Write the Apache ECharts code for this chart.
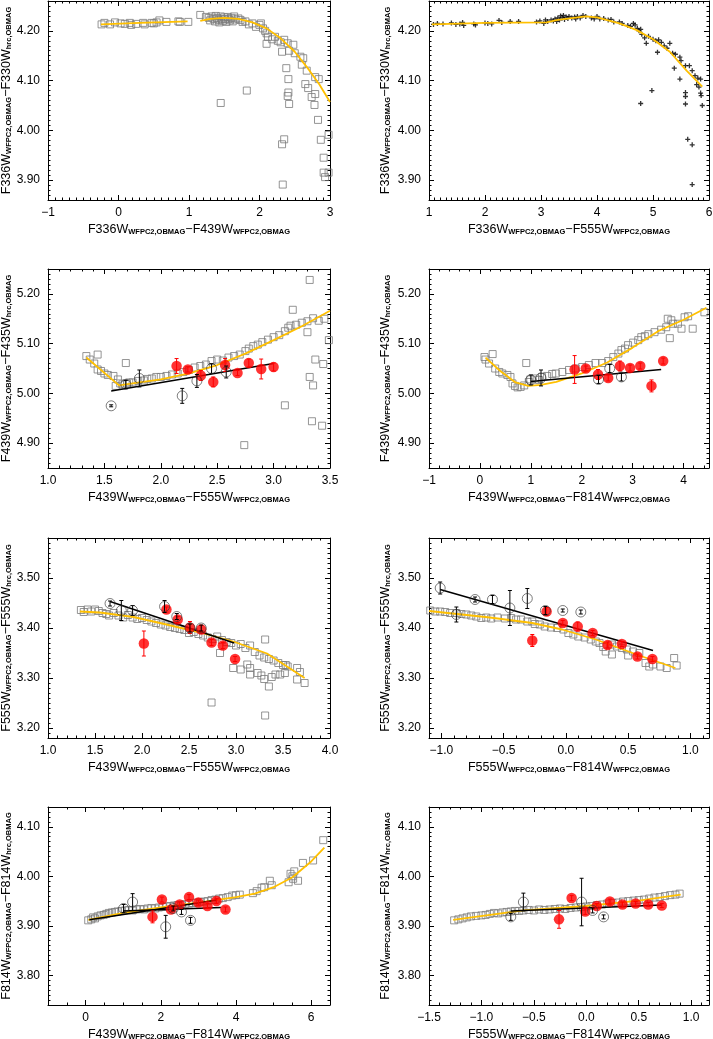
<!DOCTYPE html>
<html>
<head>
<meta charset="utf-8">
<script src="https://cdn.jsdelivr.net/npm/echarts@6/dist/echarts.min.js"></script>
<style>
  html, body { margin: 0; padding: 0; background: #fff; }
  #chart { width: 713px; height: 1039px; }
</style>
</head>
<body>
<div id="chart"></div>
<script>
// ---- panel 1: F336W-F439W vs F336W(wfpc2)-F330W(hrc)
var p1Squares = [
  [-0.24, 4.213], [-0.20, 4.216], [-0.12, 4.213], [-0.05, 4.217], [0.03, 4.215], [0.09, 4.214], [0.16, 4.216],
  [0.18, 4.212], [0.25, 4.214], [0.35, 4.216], [0.37, 4.213], [0.47, 4.216], [0.50, 4.215], [0.54, 4.217],
  [0.58, 4.221], [0.68, 4.218], [0.85, 4.219], [0.87, 4.218], [0.99, 4.218],
  [1.16, 4.232], [1.24, 4.228], [1.28, 4.226], [1.30, 4.221], [1.32, 4.229], [1.35, 4.224], [1.37, 4.219],
  [1.38, 4.230], [1.40, 4.226], [1.42, 4.222], [1.43, 4.217], [1.45, 4.229], [1.46, 4.224], [1.48, 4.220],
  [1.50, 4.227], [1.51, 4.223], [1.53, 4.218], [1.55, 4.228], [1.56, 4.224], [1.58, 4.221], [1.60, 4.226],
  [1.62, 4.219], [1.64, 4.229], [1.66, 4.223], [1.70, 4.225], [1.73, 4.222], [1.76, 4.218], [1.80, 4.219],
  [1.85, 4.213], [1.90, 4.215], [1.95, 4.208], [2.00, 4.212], [2.02, 4.215], [2.05, 4.205], [2.08, 4.200],
  [2.10, 4.195], [2.12, 4.188], [2.10, 4.174], [2.18, 4.183], [2.22, 4.188], [2.26, 4.180], [2.30, 4.177],
  [2.32, 4.158], [2.35, 4.182], [2.40, 4.175], [2.42, 4.160], [2.48, 4.172], [2.50, 4.155], [2.58, 4.148],
  [2.62, 4.145], [2.60, 4.132], [2.65, 4.093], [2.69, 4.085], [2.74, 4.067], [2.78, 4.051], [2.79, 4.107],
  [2.84, 4.103], [2.79, 4.073], [2.83, 4.021], [2.87, 3.981], [2.91, 3.945], [2.91, 3.915], [2.93, 3.906],
  [2.98, 3.991], [2.98, 3.915], [2.67, 4.120],
  [1.45, 4.055], [1.82, 4.080], [2.38, 4.125], [2.41, 4.103], [2.41, 4.076], [2.40, 4.069], [2.42, 4.053],
  [2.35, 3.982], [2.32, 3.972], [2.33, 3.891]
];
var p1Fit = [[-0.25, 4.213], [0.3, 4.216], [0.98, 4.219], null,
  [1.16, 4.220], [1.3, 4.224], [1.5, 4.226], [1.7, 4.224], [1.9, 4.217], [2.1, 4.205], [2.3, 4.185],
  [2.5, 4.158], [2.7, 4.122], [2.85, 4.092], [3.0, 4.057]];

// ---- panel 2: F336W-F555W
var p2Plus = [
  [1.08, 4.213], [1.15, 4.215], [1.25, 4.214], [1.40, 4.216], [1.48, 4.213], [1.55, 4.214], [1.60, 4.217],
  [1.62, 4.211], [1.80, 4.214], [1.83, 4.212], [2.00, 4.216], [2.05, 4.215], [2.12, 4.214], [2.25, 4.221],
  [2.30, 4.217], [2.45, 4.219], [2.60, 4.219], [2.92, 4.218], [2.98, 4.220], [3.05, 4.215], [3.08, 4.222],
  [3.12, 4.219], [3.18, 4.222], [3.22, 4.220], [3.25, 4.224], [3.28, 4.219], [3.30, 4.226], [3.33, 4.222],
  [3.35, 4.230], [3.38, 4.226], [3.40, 4.231], [3.42, 4.223], [3.45, 4.228], [3.48, 4.225], [3.50, 4.229],
  [3.55, 4.226], [3.60, 4.228], [3.62, 4.224], [3.65, 4.229], [3.70, 4.226], [3.75, 4.231], [3.80, 4.229],
  [3.90, 4.226], [3.95, 4.224], [4.00, 4.229], [4.05, 4.224], [4.12, 4.225], [4.20, 4.222], [4.25, 4.223],
  [4.30, 4.218], [4.40, 4.218], [4.45, 4.215], [4.55, 4.211], [4.60, 4.209], [4.65, 4.215], [4.68, 4.212],
  [4.72, 4.205], [4.75, 4.200], [4.78, 4.203], [4.80, 4.193], [4.85, 4.186], [4.88, 4.175], [4.92, 4.189],
  [5.00, 4.183], [5.05, 4.180], [5.08, 4.157], [5.10, 4.182], [5.15, 4.177], [5.20, 4.170], [5.25, 4.165],
  [5.30, 4.175], [5.35, 4.155], [5.40, 4.153], [5.48, 4.147], [5.50, 4.140], [5.58, 4.130], [5.65, 4.130],
  [5.70, 4.120], [5.75, 4.110], [5.80, 4.105], [5.85, 4.103], [5.78, 4.092], [5.82, 4.087],
  [4.78, 4.054], [4.98, 4.080], [5.38, 4.125], [5.48, 4.103], [5.58, 4.076], [5.58, 4.068], [5.58, 4.053],
  [5.62, 3.982], [5.70, 3.971], [5.70, 3.891], [5.86, 4.070], [5.88, 4.050], [5.85, 4.075]
];
var p2Fit = [[1.05, 4.213], [2.0, 4.216], [3.1, 4.217], [3.3, 4.222], [3.8, 4.229], [4.0, 4.227],
  [4.4, 4.215], [4.7, 4.202], [5.0, 4.183], [5.3, 4.158], [5.6, 4.120], [5.88, 4.088]];

// ---- panel 3: F439W-F555W vs F439W-F435W
var p3Squares = [
  [1.34, 5.075], [1.37, 5.068], [1.41, 5.060], [1.44, 5.048], [1.47, 5.045], [1.50, 5.040], [1.53, 5.037],
  [1.58, 5.035], [1.60, 5.015], [1.62, 5.028], [1.64, 5.020], [1.66, 5.018], [1.70, 5.020], [1.72, 5.022],
  [1.75, 5.022], [1.80, 5.025], [1.85, 5.026], [1.88, 5.029], [1.92, 5.030], [1.96, 5.033], [2.00, 5.033],
  [2.05, 5.035], [2.10, 5.038], [2.15, 5.040], [2.20, 5.043], [2.25, 5.047], [2.30, 5.052], [2.35, 5.055],
  [2.40, 5.058], [2.45, 5.065], [2.50, 5.068], [2.55, 5.066], [2.60, 5.072], [2.65, 5.075], [2.70, 5.078],
  [2.75, 5.085], [2.78, 5.090], [2.82, 5.095], [2.86, 5.098], [2.90, 5.103], [2.95, 5.108], [3.00, 5.113],
  [3.05, 5.117], [3.10, 5.125], [3.13, 5.132], [3.15, 5.136], [3.20, 5.138], [3.25, 5.142], [3.30, 5.145],
  [3.35, 5.151], [3.40, 5.146], [3.45, 5.150], [3.49, 5.107], [3.30, 5.123],
  [1.44, 5.078], [1.69, 5.061], [3.17, 5.168], [3.32, 5.228], [3.34, 4.944], [3.10, 4.976], [2.74, 4.896],
  [3.32, 5.033], [3.35, 5.016], [3.37, 5.068], [3.44, 5.059], [3.43, 4.935]
];
var p3Fit = [[1.34, 5.072], [1.63, 5.016], [1.75, 5.020], [2.0, 5.028], [2.25, 5.040], [2.5, 5.057],
  [2.75, 5.080], [3.0, 5.107], [3.25, 5.135], [3.5, 5.166]];
var p3Lines = [[[1.56, 5.005], [3.0, 5.060]]];
var p3Red = [[2.14, 5.055, 0.015], [2.24, 5.048, 0.005], [2.355, 5.036, 0.01], [2.465, 5.023, 0.01],
  [2.57, 5.057, 0.013], [2.68, 5.041, 0.005], [2.78, 5.061, 0.008], [2.89, 5.049, 0.02], [3.0, 5.053, 0.008]];
var p3Open = [[1.56, 4.975, 0.002], [1.69, 5.018, 0.008], [1.81, 5.030, 0.017], [2.19, 4.995, 0.015],
  [2.32, 5.025, 0.013], [2.45, 5.050, 0.01], [2.58, 5.043, 0.012]];

// ---- panel 4: F439W-F814W vs F439W-F435W
var p4Squares = [
  [0.09, 5.073], [0.11, 5.068], [0.18, 5.060], [0.25, 5.079], [0.30, 5.050], [0.38, 5.043], [0.44, 5.040],
  [0.54, 5.037], [0.60, 5.033], [0.64, 5.020], [0.69, 5.015], [0.74, 5.012], [0.80, 5.013], [0.87, 5.016],
  [0.91, 5.061], [0.96, 5.023], [0.99, 5.028], [1.09, 5.030], [1.16, 5.027], [1.22, 5.033], [1.32, 5.035],
  [1.42, 5.039], [1.49, 5.040], [1.62, 5.043], [1.75, 5.047], [1.88, 5.050], [2.01, 5.053], [2.14, 5.057],
  [2.27, 5.061], [2.40, 5.061], [2.52, 5.065], [2.62, 5.073], [2.72, 5.080], [2.78, 5.087], [2.85, 5.090],
  [2.91, 5.097], [3.01, 5.102], [3.11, 5.107], [3.17, 5.113], [3.24, 5.115], [3.31, 5.119], [3.43, 5.123],
  [3.56, 5.128], [3.66, 5.133], [3.69, 5.150], [3.76, 5.147], [3.79, 5.140], [3.89, 5.140], [3.96, 5.130],
  [4.02, 5.153], [4.09, 5.155], [4.18, 5.130], [4.41, 5.163], [3.73, 5.111]
];
var p4Fit = [[0.11, 5.072], [0.4, 5.045], [0.7, 5.022], [0.95, 5.015], [1.2, 5.017], [1.5, 5.023],
  [2.0, 5.040], [2.5, 5.062], [3.0, 5.092], [3.5, 5.125], [4.0, 5.148], [4.45, 5.172]];
var p4Lines = [[[1.0, 5.024], [3.56, 5.048]]];
var p4Red = [[1.86, 5.048, 0.028], [2.08, 5.050, 0.005], [2.32, 5.038, 0.01], [2.52, 5.031, 0.006],
  [2.75, 5.055, 0.01], [2.95, 5.051, 0.006], [3.15, 5.055, 0.006], [3.37, 5.015, 0.012], [3.60, 5.065, 0.006]];
var p4Open = [[1.0, 5.027, 0.01], [1.2, 5.031, 0.016], [2.33, 5.028, 0.008], [2.55, 5.050, 0.008],
  [2.78, 5.033, 0.008]];

// ---- panel 5: F439W-F555W vs F555W-F555W
var p5Squares = [
  [1.35, 3.436], [1.38, 3.432], [1.42, 3.437], [1.46, 3.433], [1.50, 3.437], [1.54, 3.434], [1.58, 3.430],
  [1.62, 3.428], [1.65, 3.425], [1.70, 3.430], [1.75, 3.425], [1.80, 3.421], [1.85, 3.426], [1.90, 3.421],
  [1.95, 3.418], [2.00, 3.420], [2.05, 3.416], [2.10, 3.413], [2.15, 3.410], [2.20, 3.407], [2.25, 3.405],
  [2.30, 3.402], [2.35, 3.400], [2.40, 3.398], [2.45, 3.396], [2.50, 3.390], [2.55, 3.392], [2.60, 3.388],
  [2.65, 3.385], [2.70, 3.381], [2.75, 3.378], [2.80, 3.383], [2.85, 3.376], [2.90, 3.372], [2.95, 3.370],
  [3.00, 3.365], [3.05, 3.368], [3.10, 3.360], [3.15, 3.365], [3.20, 3.352], [3.25, 3.345], [3.30, 3.341],
  [3.35, 3.338], [3.40, 3.335], [3.45, 3.330], [3.50, 3.326], [3.55, 3.323], [3.65, 3.320], [3.68, 3.312],
  [3.65, 3.297], [3.73, 3.290],
  [2.83, 3.350], [2.97, 3.320], [3.05, 3.317], [3.12, 3.327], [3.15, 3.307], [3.27, 3.305], [3.30, 3.298],
  [3.35, 3.283], [3.38, 3.302], [3.42, 3.307], [3.47, 3.307], [3.52, 3.310], [3.53, 3.326], [3.31, 3.377],
  [2.74, 3.251], [3.31, 3.225], [3.15, 3.320], [3.23, 3.310]
];
var p5Fit = [[1.34, 3.433], [1.55, 3.431], [1.91, 3.422], [2.26, 3.407], [2.62, 3.391], [2.97, 3.373],
  [3.33, 3.349], [3.73, 3.300]];
var p5Lines = [[[1.66, 3.453], [2.98, 3.370]]];
var p5Red = [[2.02, 3.369, 0.025], [2.26, 3.437, 0.005], [2.38, 3.417, 0.006], [2.51, 3.401, 0.012],
  [2.63, 3.397, 0.008], [2.74, 3.371, 0.006], [2.86, 3.365, 0.006], [2.99, 3.338, 0.005]];
var p5Open = [[1.66, 3.449, 0.005], [1.78, 3.435, 0.02], [1.90, 3.435, 0.01], [2.24, 3.443, 0.012],
  [2.37, 3.423, 0.006], [2.51, 3.400, 0.008], [2.63, 3.400, 0.006]];

// ---- panel 6: F555W-F814W vs F555W-F555W
var p6Squares = [
  [-1.09, 3.435], [-1.05, 3.433], [-1.01, 3.433], [-0.97, 3.432], [-0.93, 3.430], [-0.88, 3.430],
  [-0.84, 3.428], [-0.80, 3.427], [-0.76, 3.425], [-0.72, 3.423], [-0.68, 3.420], [-0.64, 3.421],
  [-0.60, 3.419], [-0.55, 3.421], [-0.49, 3.419], [-0.44, 3.420], [-0.40, 3.417], [-0.36, 3.417],
  [-0.31, 3.413], [-0.27, 3.413], [-0.25, 3.408], [-0.21, 3.407], [-0.17, 3.403], [-0.12, 3.401],
  [-0.07, 3.400], [-0.02, 3.397], [0.02, 3.390], [0.06, 3.387], [0.10, 3.383], [0.15, 3.381], [0.20, 3.377],
  [0.24, 3.373], [0.27, 3.370], [0.30, 3.362], [0.32, 3.353], [0.37, 3.367], [0.41, 3.363], [0.45, 3.360],
  [0.49, 3.357], [0.54, 3.353], [0.59, 3.350], [0.64, 3.330], [0.67, 3.323], [0.70, 3.327], [0.76, 3.323],
  [0.81, 3.320], [0.87, 3.340], [0.89, 3.325], [0.50, 3.345], [0.37, 3.347]
];
var p6Fit = [[-1.1, 3.434], [-0.61, 3.421], [-0.27, 3.410], [-0.03, 3.397], [0.24, 3.377], [0.59, 3.345],
  [0.88, 3.320]];
var p6Lines = [[[-1.01, 3.477], [0.70, 3.355]]];
var p6Red = [[-0.27, 3.375, 0.012], [-0.155, 3.433, 0.008], [-0.025, 3.410, 0.005], [0.095, 3.403, 0.009],
  [0.215, 3.390, 0.005], [0.335, 3.366, 0.006], [0.45, 3.368, 0.005], [0.575, 3.343, 0.005], [0.695, 3.338, 0.005]];
var p6Open = [[-1.01, 3.480, 0.012], [-0.88, 3.427, 0.015], [-0.73, 3.457, 0.005], [-0.59, 3.457, 0.008],
  [-0.45, 3.440, 0.035], [-0.31, 3.459, 0.02], [-0.165, 3.435, 0.008], [-0.025, 3.435, 0.003], [0.12, 3.432, 0.004]];

// ---- panel 7: F439W-F814W vs F814W-F814W
var p7Squares = [
  [0.07, 3.911], [0.15, 3.913], [0.20, 3.917], [0.25, 3.915], [0.32, 3.919], [0.40, 3.921], [0.48, 3.922],
  [0.55, 3.924], [0.62, 3.926], [0.70, 3.927], [0.78, 3.928], [0.85, 3.929], [0.95, 3.930], [1.05, 3.931],
  [1.15, 3.932], [1.25, 3.931], [1.35, 3.933], [1.45, 3.934], [1.55, 3.933], [1.65, 3.935], [1.75, 3.936],
  [1.85, 3.935], [1.95, 3.937], [2.05, 3.938], [2.15, 3.939], [2.25, 3.940], [2.35, 3.941], [2.45, 3.942],
  [2.55, 3.942], [2.65, 3.944], [2.75, 3.945], [2.85, 3.946], [2.95, 3.947], [3.05, 3.948], [3.15, 3.949],
  [3.25, 3.950], [3.35, 3.952], [3.45, 3.953], [3.55, 3.955], [3.65, 3.956], [3.78, 3.958], [3.90, 3.961],
  [4.00, 3.962], [4.10, 3.963], [4.45, 3.966], [4.55, 3.970], [4.68, 3.977], [4.75, 3.978], [4.90, 3.991],
  [4.95, 3.982], [5.40, 3.988], [5.45, 4.005], [5.50, 4.000], [5.55, 4.010], [5.52, 3.995], [5.65, 3.991],
  [5.78, 4.027], [6.05, 4.032], [6.32, 4.073]
];
var p7Fit = [[0.07, 3.912], [1.0, 3.926], [2.0, 3.937], [3.0, 3.947], [4.0, 3.958], [4.5, 3.965],
  [5.0, 3.978], [5.5, 3.998], [6.0, 4.030], [6.35, 4.058]];
var p7Lines = [[[0.1, 3.912], [3.5, 3.952]], [[1.0, 3.930], [3.6, 3.937]]];
var p7Red = [[1.78, 3.918, 0.012], [2.03, 3.953, 0.005], [2.27, 3.933, 0.005], [2.50, 3.943, 0.005],
  [2.75, 3.958, 0.005], [3.00, 3.947, 0.005], [3.24, 3.940, 0.005], [3.48, 3.950, 0.005], [3.72, 3.933, 0.005]];
var p7Open = [[1.01, 3.935, 0.008], [1.25, 3.948, 0.017], [2.13, 3.898, 0.023], [2.33, 3.935, 0.005],
  [2.55, 3.928, 0.005], [2.79, 3.911, 0.006]];

// ---- panel 8: F555W-F814W vs F814W-F814W
var p8Squares = [
  [-1.26, 3.911], [-1.22, 3.913], [-1.18, 3.915], [-1.14, 3.917], [-1.10, 3.919], [-1.05, 3.920],
  [-1.00, 3.921], [-0.96, 3.922], [-0.92, 3.924], [-0.88, 3.926], [-0.84, 3.925], [-0.80, 3.927],
  [-0.76, 3.928], [-0.72, 3.929], [-0.68, 3.930], [-0.64, 3.930], [-0.60, 3.931], [-0.55, 3.932],
  [-0.50, 3.931], [-0.45, 3.933], [-0.40, 3.932], [-0.35, 3.933], [-0.30, 3.934], [-0.25, 3.935],
  [-0.20, 3.934], [-0.15, 3.936], [-0.10, 3.937], [-0.05, 3.938], [0.00, 3.939], [0.05, 3.940],
  [0.10, 3.942], [0.15, 3.943], [0.20, 3.945], [0.25, 3.946], [0.30, 3.947], [0.35, 3.949], [0.40, 3.950],
  [0.45, 3.951], [0.50, 3.952], [0.55, 3.953], [0.60, 3.955], [0.65, 3.957], [0.70, 3.958], [0.75, 3.960],
  [0.80, 3.962], [0.85, 3.963], [0.89, 3.965]
];
var p8Fit = [[-1.27, 3.912], [-0.6, 3.931], [0.0, 3.940], [0.5, 3.951], [0.9, 3.963]];
var p8Lines = [[[-0.72, 3.930], [0.72, 3.942]]];
var p8Red = [[-0.26, 3.913, 0.018], [-0.14, 3.956, 0.005], [-0.01, 3.929, 0.006], [0.10, 3.940, 0.005],
  [0.225, 3.949, 0.005], [0.345, 3.943, 0.005], [0.47, 3.945, 0.004], [0.59, 3.943, 0.004], [0.72, 3.941, 0.004]];
var p8Open = [[-0.72, 3.918, 0.007], [-0.60, 3.948, 0.018], [-0.045, 3.948, 0.048], [0.06, 3.931, 0.005],
  [0.165, 3.918, 0.004]];

var FONT = 'Liberation Sans';

// axis spec: [min, max, major, minor, decimals]
var panels = [
  { box: [48, 1, 282, 199], x: [-1, 3, 1, 0.1, 0], y: [3.86, 4.26, 0.1, 0.01, 2],
    xn: ['F336W', 'F439W'], yn: ['F336W', 'F330W'], pts: p1Squares, fit: p1Fit },
  { box: [429, 1, 280, 199], x: [1, 6, 1, 0.1, 0], y: [3.86, 4.26, 0.1, 0.01, 2],
    xn: ['F336W', 'F555W'], yn: ['F336W', 'F330W'], pts: p2Plus, plus: true, fit: p2Fit },
  { box: [48, 269, 282, 199], x: [1.0, 3.5, 0.5, 0.1, 1], y: [4.85, 5.25, 0.1, 0.01, 2],
    xn: ['F439W', 'F555W'], yn: ['F439W', 'F435W'], pts: p3Squares, fit: p3Fit, lines: p3Lines, red: p3Red, open: p3Open },
  { box: [429, 269, 280, 199], x: [-1, 4.5, 1, 0.2, 0], y: [4.85, 5.25, 0.1, 0.01, 2],
    xn: ['F439W', 'F814W'], yn: ['F439W', 'F435W'], pts: p4Squares, fit: p4Fit, lines: p4Lines, red: p4Red, open: p4Open },
  { box: [48, 538, 282, 200], x: [1.0, 4.0, 0.5, 0.1, 1], y: [3.18, 3.58, 0.1, 0.01, 2],
    xn: ['F439W', 'F555W'], yn: ['F555W', 'F555W'], pts: p5Squares, fit: p5Fit, lines: p5Lines, red: p5Red, open: p5Open },
  { box: [429, 538, 280, 200], x: [-1.1, 1.15, 0.5, 0.1, 1], y: [3.18, 3.58, 0.1, 0.01, 2],
    xn: ['F555W', 'F814W'], yn: ['F555W', 'F555W'], pts: p6Squares, fit: p6Fit, lines: p6Lines, red: p6Red, open: p6Open },
  { box: [48, 807, 282, 198], x: [-1, 6.5, 2, 0.5, 0], y: [3.74, 4.14, 0.1, 0.01, 2],
    xn: ['F439W', 'F814W'], yn: ['F814W', 'F814W'], pts: p7Squares, fit: p7Fit, lines: p7Lines, red: p7Red, open: p7Open },
  { box: [429, 807, 280, 198], x: [-1.5, 1.17, 0.5, 0.1, 1], y: [3.74, 4.14, 0.1, 0.01, 2],
    xn: ['F555W', 'F814W'], yn: ['F814W', 'F814W'], pts: p8Squares, fit: p8Fit, lines: p8Lines, red: p8Red, open: p8Open }
];

var rich = {
  m: { fontFamily: FONT, fontSize: 12.5, color: '#000', lineHeight: 14, verticalAlign: 'bottom' },
  s: { fontFamily: FONT, fontSize: 7.5, fontWeight: 'bold', color: '#000', lineHeight: 9, verticalAlign: 'bottom' }
};

function fmtNum(v, dec) {
  var s = v.toFixed(dec);
  if (/^-0(\.0+)?$/.test(s)) s = s.slice(1);
  return s.replace('-', '\u2212');
}

function makeAxes(dim, gi, spec, name, nameGap) {
  var min = spec[0], max = spec[1], major = spec[2], minor = spec[3], dec = spec[4];
  var pos = dim === 'x' ? ['bottom', 'top'] : ['left', 'right'];
  var tickLine = { color: '#000', width: 1 };
  function base() {
    return { type: 'value', gridIndex: gi, min: min, max: max, scale: true,
      splitLine: { show: false }, axisPointer: { show: false } };
  }
  var k = min / major;
  var majorCfg = Math.abs(k - Math.round(k)) < 1e-6 ? { interval: major } : { splitNumber: Math.round((max - min) / major) };
  var mainAx = Object.assign(base(), majorCfg, {
    position: pos[0],
    axisLine: { show: true, onZero: false, lineStyle: { color: '#000', width: 1 } },
    axisTick: { show: true, inside: true, length: 5, lineStyle: tickLine },
    axisLabel: {
      fontFamily: FONT, fontSize: 12, color: '#000', margin: dim === 'x' ? 7 : 8,
      showMinLabel: true, showMaxLabel: true,
      formatter: function (v) {
        var q = v / major;
        if (Math.abs(q - Math.round(q)) > 1e-3) return '';
        return fmtNum(Math.round(q) * major, dec);
      }
    },
    name: name, nameLocation: 'middle', nameGap: nameGap,
    nameTextStyle: { rich: rich }
  });
  var oppAx = Object.assign(base(), majorCfg, {
    position: pos[1],
    axisLine: { show: true, onZero: false, lineStyle: { color: '#000', width: 1 } },
    axisTick: { show: true, inside: true, length: 5, lineStyle: tickLine },
    axisLabel: { show: false }
  });
  function minorAx(p) {
    return Object.assign(base(), {
      interval: minor, position: p,
      axisLine: { show: false, onZero: false },
      axisTick: { show: true, inside: true, length: 2.5, lineStyle: tickLine },
      axisLabel: { show: false }
    });
  }
  // grid flips a repeated position to the other side, so the two minor axes land one on each side
  return [mainAx, oppAx, minorAx(pos[0]), minorAx(pos[1])];
}

function errorBars(gi, data, color) {
  return {
    type: 'custom', xAxisIndex: gi * 4, yAxisIndex: gi * 4, data: data, z: 6, silent: true,
    renderItem: function (params, api) {
      var x = api.value(0), y = api.value(1), e = api.value(2);
      var a = api.coord([x, y + e]), b = api.coord([x, y - e]);
      var c = 2;
      var st = { stroke: color, lineWidth: 1 };
      return { type: 'group', children: [
        { type: 'line', shape: { x1: a[0], y1: a[1], x2: b[0], y2: b[1] }, style: st },
        { type: 'line', shape: { x1: a[0] - c, y1: a[1], x2: a[0] + c, y2: a[1] }, style: st },
        { type: 'line', shape: { x1: b[0] - c, y1: b[1], x2: b[0] + c, y2: b[1] }, style: st }
      ] };
    }
  };
}

var grids = [], xAxes = [], yAxes = [], series = [];
panels.forEach(function (p, i) {
  grids.push({ left: p.box[0], top: p.box[1], width: p.box[2], height: p.box[3], show: false, outerBoundsMode: 'none' });
  var xName = '{m|' + p.xn[0] + '}{s|WFPC2,OBMAG}{m|\u2212' + p.xn[1] + '}{s|WFPC2,OBMAG}';
  var yName = '{m|' + p.yn[0] + '}{s|WFPC2,OBMAG}{m|\u2212' + p.yn[1] + '}{s|hrc,OBMAG}';
  xAxes = xAxes.concat(makeAxes('x', i, p.x, xName, 22));
  yAxes = yAxes.concat(makeAxes('y', i, p.y, yName, i % 2 === 0 ? 34 : 37));

  var ax = { xAxisIndex: i * 4, yAxisIndex: i * 4, silent: true };
  series.push(Object.assign({
    type: 'scatter', data: p.pts, z: 2,
    symbol: p.plus ? 'path://M5 0L5 10M0 5L10 5' : 'rect',
    symbolSize: p.plus ? 5 : 7,
    itemStyle: p.plus
      ? { color: 'rgba(0,0,0,0)', borderColor: '#000', borderWidth: 1.3 }
      : { color: 'rgba(0,0,0,0)', borderColor: '#7a7a7a', borderWidth: 1 }
  }, ax));
  series.push(Object.assign({
    type: 'line', data: p.fit, z: 3, showSymbol: false, connectNulls: false,
    lineStyle: { color: '#ffc000', width: 1.8 }
  }, ax));
  (p.lines || []).forEach(function (seg) {
    series.push(Object.assign({
      type: 'line', data: seg, z: 3, showSymbol: false,
      lineStyle: { color: '#000', width: 1.5 }
    }, ax));
  });
  if (p.red) {
    series.push(errorBars(i, p.red, '#ff0000'));
    series.push(Object.assign({
      type: 'scatter', data: p.red, z: 5, symbol: 'circle', symbolSize: 10.5,
      itemStyle: { color: '#ff0000' }
    }, ax));
  }
  if (p.open) {
    series.push(Object.assign({
      type: 'scatter', data: p.open, z: 6, symbol: 'circle', symbolSize: 10,
      itemStyle: { color: 'rgba(0,0,0,0)', borderColor: '#333', borderWidth: 0.8 }
    }, ax));
    series.push(errorBars(i, p.open, '#000'));
  }
});

var chart = echarts.init(document.getElementById('chart'), null, { renderer: 'canvas' });
chart.setOption({
  backgroundColor: '#fff',
  animation: false,
  grid: grids,
  xAxis: xAxes,
  yAxis: yAxes,
  series: series
});
</script>
</body>
</html>
